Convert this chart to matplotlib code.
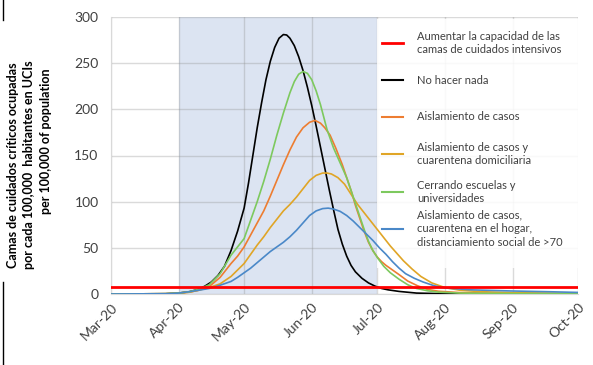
import matplotlib
matplotlib.use("Agg")
import matplotlib.pyplot as plt
import matplotlib.dates as mdates
from matplotlib.lines import Line2D
from matplotlib.patches import Rectangle
import pandas as pd

plt.rcParams['font.family'] = ['Lato', 'DejaVu Sans']

START = pd.Timestamp('2020-03-01')

# days since 1 Mar 2020, values (beds per 100,000)
black_days = [0, 25, 31, 36, 40, 43, 46, 49, 52, 55, 58, 61, 63, 65, 67, 69, 71, 73, 75, 77, 79, 80.5, 82, 84,
              86, 88, 90, 92, 94, 96, 98, 100, 102, 104, 106, 108, 110, 112, 115, 118, 121, 124, 127, 132, 140,
              153, 183, 214]
black_vals = [0, 0.3, 1, 2.5, 5, 8.5, 13, 20, 30, 47, 68, 93, 120, 150, 180, 207, 232, 252, 267, 277, 281,
              280.5, 277, 269, 257, 242, 224, 204, 182, 159, 136, 113, 91, 70, 54, 41, 31, 24, 17, 12, 8.5, 6,
              4.5, 2.8, 1, 0.3, 0, 0]

green_days = [0, 25, 31, 36, 40, 45, 50, 55, 58, 61, 64, 67, 70, 73, 76, 79, 82, 84, 86, 88, 90, 92, 94, 96,
              99, 102, 105, 108, 110, 112, 114, 116, 118, 120, 122.5, 125, 128, 132, 136, 140, 145, 150, 160,
              183, 214]
green_vals = [0, 0.3, 1, 2.5, 5, 10, 22, 42, 51, 60, 80, 100, 122, 146, 172, 196, 218, 230, 238, 241, 239,
              232, 220, 205, 178, 158, 142, 126, 112, 98, 84, 70, 57, 47, 38, 30, 23, 16, 10, 6, 3.5, 2, 1,
              0.5, 0.2]

orange_days = [0, 25, 31, 36, 40, 45, 50, 55, 58, 61, 64, 67, 70, 73, 76, 79, 82, 85, 88, 91, 93.5, 96, 98,
               100.4, 103, 106, 108, 110.3, 112, 114, 116, 118, 120, 122, 124, 126, 129, 132, 136, 140.4, 145,
               150, 160, 183, 214]
orange_vals = [0, 0.3, 1, 2, 4, 8, 18, 33, 41, 51, 64, 77, 90, 106, 123, 140, 156, 170, 180, 186, 188, 185,
               180, 172, 158, 140, 126, 110, 96, 82, 68, 56, 47, 40, 35, 31, 26, 21, 14, 9, 5, 3, 1.5, 0.7,
               0.3]

gold_days = [0, 25, 31, 36, 40, 45, 50, 55, 58, 61, 64, 67, 70, 73, 76, 79, 82, 85, 88, 91, 94, 97, 99, 101,
             104, 107, 110, 113, 116, 119, 122, 125, 128, 131, 134, 138, 142, 147, 153, 160, 170, 183, 214]
gold_vals = [0, 0.3, 1, 2, 4, 7, 11, 19, 26, 33, 43, 53, 62, 72, 81, 90, 97, 105, 114, 123, 128.5, 131, 131,
             130, 126, 119, 108, 97, 88, 79, 70, 61, 52, 44, 36, 27, 19, 12, 7, 4, 2.5, 1.5, 0.5]

blue_days = [0, 25, 31, 36, 40, 45, 50, 55, 58, 61, 64, 67, 70, 73, 76, 79, 82, 85, 88, 91, 94, 97, 99.5, 102,
             105, 108, 111, 114, 117, 120, 123, 126, 129, 132, 135, 139, 143, 148, 153, 165, 183, 200, 214]
blue_vals = [0, 0.3, 1, 2.5, 4, 6, 9.5, 13.6, 18, 23, 28, 34, 40, 46, 51, 56, 62, 69, 77, 85, 90, 92.5, 93,
             92, 89.5, 85, 79, 72, 65, 58, 50, 43, 35, 28, 22, 17, 13, 9, 6.5, 4.5, 3.3, 2.5, 1.7]

capacity_value = 8
shade_start, shade_end = '2020-04-01', '2020-07-01'
x_min, x_max = '2020-03-01', '2020-10-01'

labels = ["Aumentar la capacidad de las\ncamas de cuidados intensivos",
          "No hacer nada",
          "Aislamiento de casos",
          "Aislamiento de casos y\ncuarentena domiciliaria",
          "Cerrando escuelas y\nuniversidades",
          "Aislamiento de casos,\ncuarentena en el hogar,\ndistanciamiento social de >70"]
colors = ['#ff0000', '#000000', '#ed7d31', '#e0a526', '#7dc95e', '#4a88c8']


def to_dates(days):
    return START + pd.to_timedelta(days, unit='D')


W, H = 593, 365
fig = plt.figure(figsize=(W / 100, H / 100), dpi=100)
ax = fig.add_axes([111 / W, 1 - 294 / H, (578 - 111) / W, (294 - 17) / H])

ax.axvspan(pd.Timestamp(shade_start), pd.Timestamp(shade_end), color='#dce4f2', zorder=0, lw=0)
ax.set_axisbelow(True)
ax.grid(True, color='#8f8f8f', alpha=0.33, lw=1.0, zorder=0.5)

# legend backdrop
ax.add_patch(Rectangle((377 / W, 1 - 268 / H), (582 - 377) / W, (268 - 19) / H, transform=fig.transFigure,
                       facecolor='white', edgecolor='none', alpha=0.85, zorder=1))

series = [(black_days, black_vals, colors[1]),
          (orange_days, orange_vals, colors[2]),
          (gold_days, gold_vals, colors[3]),
          (green_days, green_vals, colors[4]),
          (blue_days, blue_vals, colors[5])]
for d, v, c in series:
    ax.plot(to_dates(d), v, color=c, lw=1.2, zorder=3, solid_joinstyle='round')

ax.axhline(capacity_value, color=colors[0], lw=2.0, zorder=4)

ax.set_xlim(pd.Timestamp(x_min), pd.Timestamp(x_max))
ax.set_ylim(0, 300)
ax.set_yticks(range(0, 301, 50))
ax.xaxis.set_major_locator(mdates.MonthLocator())
ax.xaxis.set_major_formatter(mdates.DateFormatter('%b-%y'))
ax.tick_params(axis='both', length=0, labelsize=10, colors='#404040')
ax.tick_params(axis='y', pad=9)
ax.tick_params(axis='x', pad=5)
for lab in ax.get_xticklabels():
    lab.set_rotation(45)
    lab.set_ha('right')
    lab.set_rotation_mode('anchor')

for s in ['top', 'right']:
    ax.spines[s].set_visible(False)
ax.spines['left'].set_color('#d9d9d9')
ax.spines['bottom'].set_color('#d9d9d9')

# y label
fig.text(21 / W, 1 - 165 / H, "Camas de cuidados críticos ocupadas\npor cada 100,000  habitantes en UCIs",
         rotation=90, ha='center', va='center', fontsize=9, fontweight='bold', color='black',
         linespacing=1.4)
fig.text(46 / W, 1 - 141 / H, "per 100,000 of population", rotation=90, ha='center', va='center',
         fontsize=9, fontweight='bold', color='black')

# edge marks
fig.add_artist(Line2D([3 / W, 3 / W], [1, 1 - 20 / H], color='black', lw=1.0))
fig.add_artist(Line2D([3 / W, 3 / W], [1 - 282 / H, 0], color='black', lw=1.0))

# legend
ys = [43, 80, 117, 154, 192, 229]
for lab, c, y in zip(labels, colors, ys):
    fig.add_artist(Line2D([382 / W, 403 / W], [1 - y / H, 1 - y / H], color=c,
                          lw=2.0 if c == '#ff0000' else 1.5, zorder=5))
    fig.text(417 / W, 1 - y / H, lab, ha='left', va='center', fontsize=8, color='#404040',
             linespacing=1.3, zorder=5)

fig.savefig('out.png', dpi=100)
